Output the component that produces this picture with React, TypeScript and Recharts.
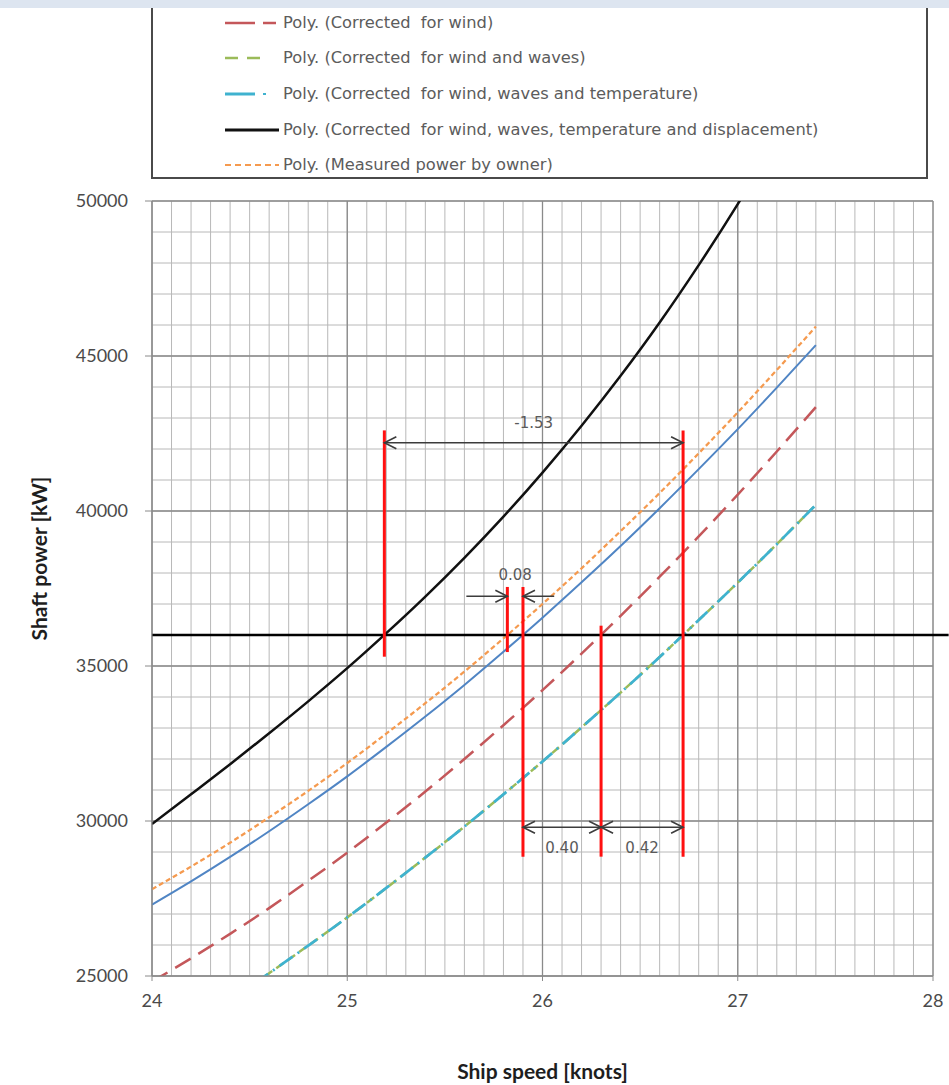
import React from 'react';
import { LineChart, Line, XAxis, YAxis, CartesianGrid, ReferenceLine } from 'recharts';

// Ship speed samples [knots]
const speeds = [24.0, 24.2, 24.4, 24.6, 24.8, 25.0, 25.2, 25.4, 25.6, 25.8, 26.0, 26.2, 26.4, 26.6, 26.8, 27.0, 27.2, 27.4];

// Shaft power trend lines [kW]
const trialPower = [27300, 28050, 28840, 29670, 30540, 31440, 32390, 33370, 34390, 35460, 36560, 37700, 38870, 40090, 41350, 42640, 43980, 45350];
const correctedWind = [24820, 25570, 26360, 27190, 28070, 28980, 29950, 30950, 32000, 33090, 34220, 35400, 36620, 37880, 39180, 40530, 41920, 43350];
const correctedWindWaves = [null, null, 24230, 25090, 25980, 26890, 27840, 28820, 29820, 30860, 31920, 33020, 34140, 35290, 36480, 37690, 38930, 40200];
const correctedWindWavesTemp = [null, null, 24230, 25090, 25980, 26890, 27840, 28820, 29820, 30860, 31920, 33020, 34140, 35290, 36480, 37690, 38930, 40200];
const correctedAll = [29900, 30860, 31830, 32830, 33860, 34930, 36060, 37240, 38490, 39820, 41240, 42750, 44360, 46080, 47930, 49900, 52010, null];
const ownerMeasured = [27800, 28530, 29300, 30120, 30970, 31870, 32820, 33800, 34820, 35890, 37000, 38150, 39350, 40580, 41860, 43180, 44550, 45950];

// Axis ticks
const xTicks = [24, 25, 26, 27, 28];
const yTicks = [25000, 30000, 35000, 40000, 45000, 50000];

// Reference power and the speed where each trend line reaches it [knots]
const referencePower = 36000;
const speedAll = 25.19;
const speedOwner = 25.82;
const speedTrial = 25.9;
const speedWind = 26.3;
const speedWindWavesTemp = 26.72;

// Vertical markers: speed and power range [kW]
const markerSpeeds = [speedAll, speedOwner, speedTrial, speedWind, speedWindWavesTemp];
const markerLow = [35300, 35450, 28850, 28850, 28850];
const markerHigh = [42600, 37550, 37550, 36300, 42600];

// Power levels of the dimension arrows and their labels [kW]
const spanArrowPower = 42200;
const spanLabelPower = 42850;
const smallArrowPower = 37250;
const smallLabelPower = 37950;
const smallArrowTails = [25.61, 26.06];
const lowArrowPower = 29800;
const lowLabelPower = 29130;

const legendEntries = [
  'Poly. (Corrected  for wind)',
  'Poly. (Corrected  for wind and waves)',
  'Poly. (Corrected  for wind, waves and temperature)',
  'Poly. (Corrected  for wind, waves, temperature and displacement)',
  'Poly. (Measured power by owner)',
];

const rows = speeds.map((s, i) => ({
  speed: s,
  trial: trialPower[i],
  wind: correctedWind[i],
  windWaves: correctedWindWaves[i],
  windWavesTemp: correctedWindWavesTemp[i],
  all: correctedAll[i],
  owner: ownerMeasured[i],
}));

const minorX = Array.from({ length: 41 }, (_, i) => +(24 + i * 0.1).toFixed(1));
const minorY = Array.from({ length: 26 }, (_, i) => 25000 + i * 1000);

const fmt = (v: number) => v.toFixed(2);

const ARROW = '#3c3c3c';
const LABEL_FONT = "'DejaVu Sans', sans-serif";
const AXIS_FONT = "Lato, 'Open Sans', sans-serif";

const C_RED = '#c4575a';
const C_GREEN = '#9bbb59';
const C_CYAN = '#3fb2cf';
const C_BLUE = '#5085c4';
const C_ORANGE = '#f59a4f';

const applyScale = (axis: any, v: number) => {
  const sc = axis && axis.scale;
  if (typeof sc === 'function') return sc(v);
  if (sc && typeof sc.map === 'function') return sc.map(v);
  return NaN;
};

const minorVertical = (p: any) => minorX.map((v) => applyScale(p.xAxis, v));
const minorHorizontal = (p: any) => minorY.map((v) => applyScale(p.yAxis, v));

function Head({ x, y, dir }: { x: number; y: number; dir: number }) {
  const len = 12;
  const half = 6;
  return (
    <path
      d={`M${x - dir * len},${y - half}L${x},${y}L${x - dir * len},${y + half}`}
      fill="none"
      stroke={ARROW}
      strokeWidth={1.6}
    />
  );
}

const doubleArrow = (props: any) => {
  const { x1, y1, x2 } = props;
  const left = Math.min(x1, x2);
  const right = Math.max(x1, x2);
  return (
    <g>
      <line x1={left} y1={y1} x2={right} y2={y1} stroke={ARROW} strokeWidth={1.6} />
      <Head x={left} y={y1} dir={-1} />
      <Head x={right} y={y1} dir={1} />
    </g>
  );
};

const singleArrow = (props: any) => {
  const { x1, y1, x2 } = props;
  const dir = x2 > x1 ? 1 : -1;
  return (
    <g>
      <line x1={x1} y1={y1} x2={x2} y2={y1} stroke={ARROW} strokeWidth={1.6} />
      <Head x={x2} y={y1} dir={dir} />
    </g>
  );
};

const textShape = (text: string) => (props: any) => {
  const { x1, y1, x2 } = props;
  return (
    <text
      x={(x1 + x2) / 2}
      y={y1}
      textAnchor="middle"
      dominantBaseline="central"
      fontFamily={LABEL_FONT}
      fontSize={15}
      fill="#5a5a5a"
    >
      {text}
    </text>
  );
};

function LegendSymbol({ kind }: { kind: number }) {
  const y = 6;
  switch (kind) {
    case 0:
      return (
        <svg width={56} height={12}>
          <line x1={0} y1={y} x2={30} y2={y} stroke={C_RED} strokeWidth={2.5} />
          <line x1={38} y1={y} x2={51} y2={y} stroke={C_RED} strokeWidth={2.5} />
        </svg>
      );
    case 1:
      return (
        <svg width={56} height={12}>
          <line x1={0} y1={y} x2={13} y2={y} stroke={C_GREEN} strokeWidth={2.5} />
          <line x1={22} y1={y} x2={35} y2={y} stroke={C_GREEN} strokeWidth={2.5} />
        </svg>
      );
    case 2:
      return (
        <svg width={56} height={12}>
          <line x1={0} y1={y} x2={30} y2={y} stroke={C_CYAN} strokeWidth={3} />
          <line x1={38} y1={y} x2={41} y2={y} stroke={C_CYAN} strokeWidth={2} />
        </svg>
      );
    case 3:
      return (
        <svg width={56} height={12}>
          <line x1={0} y1={y} x2={54} y2={y} stroke="#111" strokeWidth={3} />
        </svg>
      );
    default:
      return (
        <svg width={56} height={12}>
          <line x1={0} y1={y} x2={54} y2={y} stroke={C_ORANGE} strokeWidth={2} strokeDasharray="6 4" />
        </svg>
      );
  }
}

export default function App() {
  const legendRowCenters = [23, 58, 94, 130, 165];
  return (
    <div
      style={{
        position: 'absolute',
        left: 0,
        top: 0,
        width: 949,
        height: 1085,
        background: '#ffffff',
        overflow: 'hidden',
      }}
    >
      <LineChart
        width={949}
        height={1085}
        data={rows}
        margin={{ top: 201, right: 16, bottom: 0, left: 0 }}
      >
        <CartesianGrid
          stroke="#b8b8b8"
          strokeWidth={1}
          verticalCoordinatesGenerator={minorVertical}
          horizontalCoordinatesGenerator={minorHorizontal}
        />
        <CartesianGrid stroke="#8a8a8a" strokeWidth={1.3} />
        <XAxis
          dataKey="speed"
          type="number"
          domain={[24, 28]}
          ticks={xTicks}
          interval={0}
          allowDataOverflow
          height={109}
          tickSize={5}
          tickMargin={13}
          axisLine={{ stroke: '#8a8a8a' }}
          tickLine={{ stroke: '#8a8a8a' }}
          tick={{ fill: '#4a4a4a', fontSize: 18, fontFamily: AXIS_FONT }}
          label={{
            content: (p: any) => {
              const vb = p.viewBox;
              return (
                <text
                  x={vb.x + vb.width / 2}
                  y={vb.y + 94}
                  textAnchor="middle"
                  dominantBaseline="central"
                  fontFamily={AXIS_FONT}
                  fontWeight={700}
                  fontSize={21}
                  fill="#1e1e1e"
                >
                  Ship speed [knots]
                </text>
              );
            },
          }}
        />
        <YAxis
          type="number"
          domain={[25000, 50000]}
          ticks={yTicks}
          interval={0}
          allowDataOverflow
          width={152}
          tickSize={7}
          tickMargin={17}
          axisLine={{ stroke: '#8a8a8a' }}
          tickLine={{ stroke: '#8a8a8a' }}
          tick={{ fill: '#4a4a4a', fontSize: 18, fontFamily: AXIS_FONT }}
          label={{
            content: (p: any) => {
              const vb = p.viewBox;
              const cx = vb.x + 38;
              const cy = vb.y + vb.height / 2 - 30;
              return (
                <text
                  x={cx}
                  y={cy}
                  transform={`rotate(-90 ${cx} ${cy})`}
                  textAnchor="middle"
                  dominantBaseline="central"
                  fontFamily={AXIS_FONT}
                  fontWeight={700}
                  fontSize={21}
                  fill="#1e1e1e"
                >
                  Shaft power [kW]
                </text>
              );
            },
          }}
        />

        <Line dataKey="trial" type="monotone" stroke={C_BLUE} strokeWidth={2} dot={false} isAnimationActive={false} />
        <Line dataKey="owner" type="monotone" stroke={C_ORANGE} strokeWidth={2.25} strokeDasharray="5 3" dot={false} isAnimationActive={false} />
        <Line dataKey="wind" type="monotone" stroke={C_RED} strokeWidth={2.5} strokeDasharray="18 9" dot={false} isAnimationActive={false} />
        <Line dataKey="windWaves" type="monotone" stroke={C_GREEN} strokeWidth={2.5} strokeDasharray="9 5" dot={false} isAnimationActive={false} />
        <Line dataKey="windWavesTemp" type="monotone" stroke={C_CYAN} strokeWidth={2.75} strokeDasharray="16 6 2 6" dot={false} isAnimationActive={false} />
        <Line dataKey="all" type="monotone" stroke="#111111" strokeWidth={2.5} dot={false} isAnimationActive={false} />

        <ReferenceLine
          segment={[{ x: 24, y: referencePower }, { x: 28.08, y: referencePower }]}
          stroke="#000000"
          strokeWidth={2.5}
          ifOverflow="visible"
        />

        {markerSpeeds.map((s, i) => (
          <ReferenceLine
            key={`m${i}`}
            segment={[{ x: s, y: markerLow[i] }, { x: s, y: markerHigh[i] }]}
            stroke="#ff1010"
            strokeWidth={3}
            ifOverflow="visible"
          />
        ))}

        <ReferenceLine
          segment={[{ x: speedAll, y: spanArrowPower }, { x: speedWindWavesTemp, y: spanArrowPower }]}
          shape={doubleArrow}
          ifOverflow="visible"
        />
        <ReferenceLine
          segment={[{ x: speedAll, y: spanLabelPower }, { x: speedWindWavesTemp, y: spanLabelPower }]}
          shape={textShape(fmt(speedAll - speedWindWavesTemp))}
          ifOverflow="visible"
        />

        <ReferenceLine
          segment={[{ x: smallArrowTails[0], y: smallArrowPower }, { x: speedOwner, y: smallArrowPower }]}
          shape={singleArrow}
          ifOverflow="visible"
        />
        <ReferenceLine
          segment={[{ x: smallArrowTails[1], y: smallArrowPower }, { x: speedTrial, y: smallArrowPower }]}
          shape={singleArrow}
          ifOverflow="visible"
        />
        <ReferenceLine
          segment={[{ x: speedOwner, y: smallLabelPower }, { x: speedTrial, y: smallLabelPower }]}
          shape={textShape(fmt(speedTrial - speedOwner))}
          ifOverflow="visible"
        />

        <ReferenceLine
          segment={[{ x: speedTrial, y: lowArrowPower }, { x: speedWind, y: lowArrowPower }]}
          shape={doubleArrow}
          ifOverflow="visible"
        />
        <ReferenceLine
          segment={[{ x: speedWind, y: lowArrowPower }, { x: speedWindWavesTemp, y: lowArrowPower }]}
          shape={doubleArrow}
          ifOverflow="visible"
        />
        <ReferenceLine
          segment={[{ x: speedTrial, y: lowLabelPower }, { x: speedWind, y: lowLabelPower }]}
          shape={textShape(fmt(speedWind - speedTrial))}
          ifOverflow="visible"
        />
        <ReferenceLine
          segment={[{ x: speedWind, y: lowLabelPower }, { x: speedWindWavesTemp, y: lowLabelPower }]}
          shape={textShape(fmt(speedWindWavesTemp - speedWind))}
          ifOverflow="visible"
        />
      </LineChart>

      {/* legend box, its top runs off the page */}
      <div
        style={{
          position: 'absolute',
          left: 151,
          top: -12,
          width: 777,
          height: 191,
          border: '2px solid #4a4a4a',
          boxSizing: 'border-box',
          background: '#ffffff',
        }}
      />
      {legendEntries.map((t, i) => (
        <div
          key={t}
          style={{
            position: 'absolute',
            left: 225,
            top: legendRowCenters[i] - 10,
            height: 20,
            display: 'flex',
            alignItems: 'center',
            whiteSpace: 'pre',
          }}
        >
          <div style={{ width: 58, height: 12, display: 'flex' }}>
            <LegendSymbol kind={i} />
          </div>
          <span
            style={{
              fontFamily: LABEL_FONT,
              fontSize: 16.3,
              color: '#5c5c5c',
              lineHeight: '20px',
            }}
          >
            {t}
          </span>
        </div>
      ))}
      <div
        style={{
          position: 'absolute',
          left: 0,
          top: 0,
          width: 949,
          height: 8,
          background: '#dde5f0',
        }}
      />
    </div>
  );
}
